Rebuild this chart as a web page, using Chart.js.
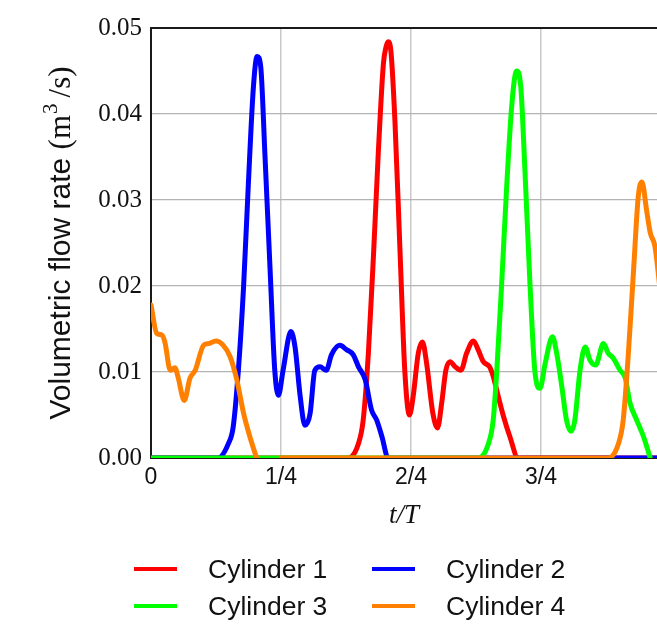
<!DOCTYPE html>
<html>
<head>
<meta charset="utf-8">
<script src="https://cdn.jsdelivr.net/npm/chart.js@4/dist/chart.umd.min.js"></script>
<style>
  html, body { margin: 0; padding: 0; background: #fff; }
  #wrap { position: relative; width: 657px; height: 624px; overflow: hidden; }
  #legend { position: absolute; left: 0; top: 0; width: 657px; height: 624px; pointer-events: none;
            font-family: "Liberation Sans", Arial, sans-serif; font-size: 26.5px; color: #111; }
  .item { position: absolute; display: flex; align-items: center; height: 34px; }
  .swatch { width: 43px; height: 4.5px; margin-right: 31px; }
</style>
</head>
<body>
<div id="wrap">
  <canvas id="c" width="657" height="624"></canvas>
  <div id="legend"></div>
</div>
<script>
// t/T の目盛り
const xTicks = [0, 0.25, 0.5, 0.75];
const xTickLabels = ["0", "1/4", "2/4", "3/4"];
const yTicks = [0, 0.01, 0.02, 0.03, 0.04, 0.05];

// Cylinder 1
const t1 = [0, 0.379, 0.399, 0.408, 0.418, 0.428, 0.437, 0.447, 0.452, 0.456, 0.461, 0.469, 0.479, 0.488, 0.497, 0.504, 0.514, 0.522, 0.530, 0.542, 0.551, 0.559, 0.567, 0.575, 0.585, 0.596, 0.607, 0.620, 0.629, 0.639, 0.651, 0.658, 0.668, 0.678, 0.690, 0.706, 1.0];
const q1 = [0, 0, 0.0017, 0.0044, 0.0122, 0.0238, 0.0354, 0.0459, 0.0478, 0.0484, 0.0475, 0.0393, 0.0238, 0.0102, 0.0050, 0.0071, 0.0122, 0.0135, 0.0110, 0.0052, 0.0035, 0.0064, 0.0102, 0.0112, 0.0106, 0.0102, 0.0122, 0.0136, 0.0126, 0.0112, 0.0106, 0.0095, 0.0071, 0.0048, 0.0025, 0, 0];

// Cylinder 2
const t2 = [0, 0.129, 0.149, 0.158, 0.168, 0.178, 0.187, 0.197, 0.204, 0.211, 0.219, 0.229, 0.238, 0.245, 0.254, 0.269, 0.277, 0.287, 0.296, 0.306, 0.315, 0.325, 0.337, 0.347, 0.363, 0.376, 0.389, 0.399, 0.412, 0.424, 0.434, 0.444, 0.456, 1.0];
const q2 = [0, 0, 0.0017, 0.0036, 0.0102, 0.0199, 0.0316, 0.0432, 0.0467, 0.0455, 0.0354, 0.0219, 0.0102, 0.0073, 0.0102, 0.0147, 0.0129, 0.0071, 0.0038, 0.0052, 0.0102, 0.0106, 0.0102, 0.0120, 0.0131, 0.0126, 0.0120, 0.0106, 0.0091, 0.0056, 0.0044, 0.0025, 0, 0];

// Cylinder 3
const t3 = [0, 0.629, 0.649, 0.658, 0.665, 0.674, 0.684, 0.694, 0.703, 0.711, 0.719, 0.729, 0.738, 0.748, 0.758, 0.772, 0.780, 0.790, 0.799, 0.808, 0.815, 0.825, 0.835, 0.844, 0.855, 0.870, 0.879, 0.889, 0.902, 0.912, 0.921, 0.934, 0.947, 0.960];
const q3 = [0, 0, 0.0017, 0.0044, 0.0102, 0.0199, 0.0316, 0.0412, 0.0450, 0.0432, 0.0335, 0.0199, 0.0102, 0.0081, 0.0110, 0.0141, 0.0122, 0.0083, 0.0044, 0.0031, 0.0044, 0.0102, 0.0129, 0.0114, 0.0108, 0.0133, 0.0122, 0.0116, 0.0102, 0.0093, 0.0064, 0.0044, 0.0025, 0];

// Cylinder 4 (0.203〜0.25 は欠測)
const t4 = [0, 0.011, 0.021, 0.027, 0.037, 0.046, 0.052, 0.064, 0.075, 0.085, 0.101, 0.110, 0.125, 0.139, 0.152, 0.165, 0.178, 0.190, 0.203, 0.226, 0.25, 0.879, 0.899, 0.908, 0.918, 0.928, 0.937, 0.944, 0.953, 0.960, 0.969, 0.980];
const q4 = [0.0178, 0.0145, 0.0143, 0.0134, 0.0102, 0.0105, 0.0094, 0.0067, 0.0093, 0.0102, 0.0131, 0.0133, 0.0136, 0.0131, 0.0118, 0.0091, 0.0052, 0.0025, 0, null, 0, 0, 0.0017, 0.0044, 0.0122, 0.0219, 0.0304, 0.0321, 0.0288, 0.0262, 0.0246, 0.0190];

const names = ["Cylinder 1", "Cylinder 2", "Cylinder 3", "Cylinder 4"];
const colors = ["#ff0000", "#0000ff", "#00ff00", "#ff8000"];
const series = [[t1, q1], [t2, q2], [t3, q3], [t4, q4]];
// 重なり順 (小さいほど上)
const drawOrder = [3, 2, 1, 0];

const toXY = (ts, qs) => ts.map((t, i) => ({ x: t, y: qs[i] }));

// 上枠線
const frameTop = {
  id: "frameTop",
  afterDatasetsDraw(chart) {
    const { ctx, chartArea: a } = chart;
    ctx.save();
    ctx.strokeStyle = "#1a1a1a";
    ctx.lineWidth = 2;
    ctx.beginPath();
    ctx.moveTo(a.left - 1, a.top);
    ctx.lineTo(a.right, a.top);
    ctx.stroke();
    ctx.restore();
  }
};

// 縦軸タイトル (本文はサンセリフ, 単位は数式体)
const yTitle = {
  id: "yTitle",
  afterDraw(chart) {
    const { ctx, chartArea: a } = chart;
    const parts = [
      { text: "Volumetric flow rate ", font: "30px 'Liberation Sans'", dy: 0, gap: 0 },
      { text: "(m", font: "31px 'Liberation Serif'", dy: 0, gap: 0 },
      { text: "3", font: "21px 'Liberation Serif'", dy: -13, gap: 1 },
      { text: "/s)", font: "31px 'Liberation Serif'", dy: 0, gap: 6 }
    ];
    ctx.save();
    let total = 0;
    for (const p of parts) {
      ctx.font = p.font;
      p.w = ctx.measureText(p.text).width;
      total += p.w + p.gap;
    }
    ctx.translate(70, (a.top + a.bottom) / 2);
    ctx.rotate(-Math.PI / 2);
    ctx.fillStyle = "#111";
    ctx.textBaseline = "alphabetic";
    ctx.textAlign = "left";
    let x = -total / 2;
    for (const p of parts) {
      x += p.gap;
      ctx.font = p.font;
      ctx.fillText(p.text, x, p.dy);
      x += p.w;
    }
    ctx.restore();
  }
};

new Chart(document.getElementById("c"), {
  type: "line",
  data: {
    datasets: series.map(([ts, qs], i) => ({
      label: names[i],
      data: toXY(ts, qs),
      borderColor: colors[i],
      backgroundColor: colors[i],
      borderWidth: 5,
      pointRadius: 0,
      cubicInterpolationMode: "monotone",
      borderJoinStyle: "round",
      borderCapStyle: "round",
      spanGaps: false,
      order: drawOrder[i]
    }))
  },
  options: {
    responsive: false,
    animation: false,
    layout: { padding: { top: 28, right: 0, bottom: 92, left: 0 } },
    plugins: { legend: { display: false }, tooltip: { enabled: false } },
    scales: {
      x: {
        type: "linear",
        min: 0,
        max: 0.973,
        afterFit: s => { s.height = 74; },
        afterBuildTicks: s => { s.ticks = xTicks.map(v => ({ value: v })); },
        ticks: {
          padding: 6,
          color: "#111",
          font: { family: "Liberation Sans", size: 23 },
          callback: v => xTickLabels[xTicks.indexOf(v)]
        },
        grid: { color: "#c8c8c8", lineWidth: 1.5, drawTicks: false },
        border: { color: "#1a1a1a", width: 2 },
        title: {
          display: true,
          text: "t/T",
          color: "#111",
          padding: { top: 0, bottom: 0 },
          font: { family: "Liberation Serif", size: 27, style: "italic" }
        }
      },
      y: {
        min: 0,
        max: 0.05,
        afterFit: s => { s.width = 151; },
        afterBuildTicks: s => { s.ticks = yTicks.map(v => ({ value: v })); },
        ticks: {
          padding: 9,
          color: "#111",
          font: { family: "Liberation Serif", size: 25 },
          callback: v => v.toFixed(2)
        },
        grid: { color: "#b4b4b4", lineWidth: 1.2, drawTicks: false },
        border: { color: "#1a1a1a", width: 2 }
      }
    }
  },
  plugins: [frameTop, yTitle]
});

// 凡例 (2列)
const legend = document.getElementById("legend");
const legendPos = [[134, 552], [372, 552], [134, 589], [372, 589]];
names.forEach((n, i) => {
  const it = document.createElement("div");
  it.className = "item";
  it.style.left = legendPos[i][0] + "px";
  it.style.top = legendPos[i][1] + "px";
  const sw = document.createElement("span");
  sw.className = "swatch";
  sw.style.background = colors[i];
  const tx = document.createElement("span");
  tx.textContent = n;
  it.appendChild(sw);
  it.appendChild(tx);
  legend.appendChild(it);
});
</script>
</body>
</html>
